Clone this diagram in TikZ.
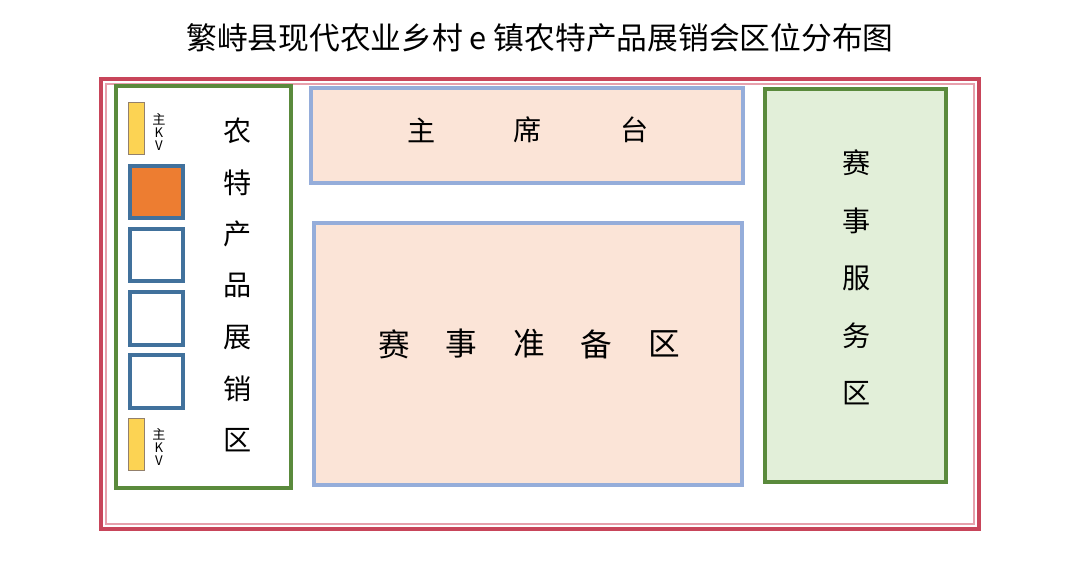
\documentclass[tikz,border=0pt]{standalone}
\usepackage{fontspec}
\setmainfont{Noto Sans CJK SC}
\usepackage{xcolor}
\definecolor{frameRed}{HTML}{C8455A}
\definecolor{framePink}{HTML}{E7A0AC}
\definecolor{zoneGreen}{HTML}{5A8A3C}
\definecolor{zoneBlue}{HTML}{95ADDA}
\definecolor{boothBlue}{HTML}{41719C}
\definecolor{peach}{HTML}{FBE4D7}
\definecolor{mint}{HTML}{E2EFD9}
\definecolor{flagYellow}{HTML}{FCD353}
\definecolor{boothOrange}{HTML}{ED7D31}
\tikzset{
  zone/.style={draw=zoneBlue,fill=peach,line width=1.8pt,inner sep=0pt},
  greenzone/.style={draw=zoneGreen,line width=1.8pt,inner sep=0pt},
  booth/.style={draw=boothBlue,line width=2.2pt,minimum width=1.05cm,minimum height=1.05cm,inner sep=0pt},
  flag/.style={draw=gray!70!brown,fill=flagYellow,line width=0.5pt,minimum width=0.32cm,minimum height=1.04cm,inner sep=0pt},
  kvtext/.style={font=\fontsize{7.5}{7.6}\selectfont,align=center,inner sep=0pt},
  label/.style={font=\fontsize{16}{16}\selectfont,inner sep=0pt},
  biglabel/.style={font=\fontsize{18}{18}\selectfont,inner sep=0pt}
}
\begin{document}
\begin{tikzpicture}[x=0.02cm,y=-0.02cm]
\useasboundingbox (0,0) rectangle (1080,566);
\node[font=\fontsize{17.5}{17.5}\selectfont] (title) at (540,38) {繁峙县现代农业乡村 e 镇农特产品展销会区位分布图};
% outer frame
\draw[frameRed,line width=2.2pt] (101,79) rectangle (979,529);
\draw[framePink,line width=0.6pt] (106,84) rectangle (974,524);
% left area
\node[greenzone,minimum width=3.5cm,minimum height=8.04cm] (shop) at (203.5,287) {};
\node[flag] (flagA) at (136.5,128) {};
\node[flag] (flagB) at (136.5,444) {};
\node[kvtext] (kvA) at (159,132) {主\\K\\V};
\node[kvtext] (kvB) at (159,447) {主\\K\\V};
\node[booth,fill=boothOrange] (boothA) at (156.5,192) {};
\node[booth] (boothB) at (156.5,255) {};
\node[booth] (boothC) at (156.5,318.5) {};
\node[booth] (boothD) at (156.5,381.5) {};
\foreach \c [count=\i from 0] in {农,特,产,品,展,销,区}
  \node[label] (shop\i) at (238,{131+51.6*\i}) {\c};
% stage
\node[zone,minimum width=8.64cm,minimum height=1.9cm] (stage) at (527,135.5) {};
\node[label] (stageA) at (422,130) {主};
\node[label] (stageB) at (528,130) {席};
\node[label] (stageC) at (635,130) {台};
% preparation
\node[zone,minimum width=8.56cm,minimum height=5.24cm] (prep) at (528,354) {};
\foreach \c [count=\i from 0] in {赛,事,准,备,区}
  \node[biglabel] (prep\i) at ({394+67.5*\i},344) {\c};
% service
\node[greenzone,fill=mint,minimum width=3.62cm,minimum height=7.86cm] (service) at (855.5,285.5) {};
\foreach \c [count=\i from 0] in {赛,事,服,务,区}
  \node[label] (service\i) at (857,{163+57.5*\i}) {\c};
\end{tikzpicture}
\end{document}
